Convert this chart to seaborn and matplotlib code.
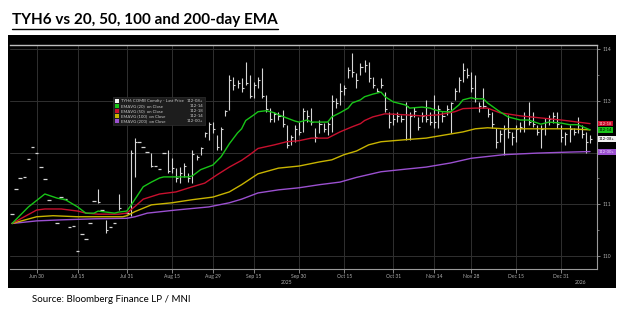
import numpy as np
import pandas as pd
import matplotlib
matplotlib.use("Agg")
import matplotlib.pyplot as plt
import seaborn as sns
from matplotlib.patches import Rectangle
from matplotlib.lines import Line2D

nan = np.nan

TITLE = "TYH6 vs 20, 50, 100 and 200-day EMA"
SOURCE = "Source: Bloomberg Finance LP / MNI"

# ---- daily bars (trading days from 2025-06-20) ----
hi = [110.81,111.30,111.51,111.53,111.88,112.11,112.00,111.72,111.49,111.09,
      nan,110.64,111.14,111.10,110.56,110.58,110.10,110.43,110.33,110.64,
      111.07,111.30,110.89,110.70,110.56,110.64,111.20,nan,110.83,112.05,
      112.28,112.21,112.11,112.01,112.00,111.74,111.68,112.00,112.05,111.90,
      111.70,111.72,111.80,111.61,112.05,111.96,112.11,112.40,112.59,112.59,
      112.34,112.50,112.83,113.50,113.46,113.41,113.44,113.75,113.50,113.37,
      113.46,113.64,113.12,112.86,112.79,112.79,112.83,112.54,112.34,112.54,
      112.59,112.86,112.83,112.86,112.48,112.63,112.57,112.59,113.12,113.06,
      113.35,113.31,113.66,113.93,113.54,113.73,113.79,113.75,113.46,113.25,
      113.44,113.17,112.79,112.77,112.79,112.73,112.98,112.79,112.88,112.69,
      112.79,113.02,112.79,113.12,112.92,112.79,112.92,112.98,113.25,113.46,
      113.73,113.64,113.56,113.50,112.98,113.25,112.86,112.79,112.48,112.44,
      112.54,112.73,112.40,112.54,112.59,112.79,112.98,112.79,112.54,112.54,
      112.67,112.73,112.79,112.79,112.54,112.40,112.54,112.48,112.69,112.54,
      112.40,112.34]
lo = [110.81,111.30,111.51,111.53,111.88,112.11,112.00,111.72,111.49,111.09,
      nan,110.64,111.14,111.10,110.56,110.58,110.10,110.43,110.33,110.64,
      111.07,111.03,110.89,110.45,110.56,110.64,110.89,nan,110.83,110.78,
      111.53,112.21,112.11,112.01,111.72,111.74,111.68,112.00,111.60,111.61,
      111.43,111.41,111.53,111.43,111.41,111.86,111.96,112.30,112.25,112.38,
      112.05,112.05,112.70,112.83,113.21,113.25,113.17,113.31,113.06,113.06,
      113.25,113.06,112.79,112.59,112.59,112.63,112.50,112.09,112.15,112.21,
      112.34,112.40,112.59,112.54,112.21,112.38,112.40,112.34,112.40,112.86,
      112.92,113.12,113.44,113.46,113.25,113.50,113.56,113.37,113.25,113.17,
      113.25,112.79,112.48,112.54,112.59,112.59,112.25,112.25,112.69,112.44,
      112.59,112.59,112.54,112.48,112.48,112.59,112.73,112.38,113.02,113.17,
      113.37,113.44,113.17,112.98,112.79,112.86,112.69,112.48,112.09,112.21,
      111.96,112.28,112.15,112.21,112.40,112.40,112.54,112.50,112.34,112.09,
      112.34,112.54,112.57,112.48,112.21,112.15,112.21,112.34,112.38,112.28,
      111.99,112.19]
cl = [110.81,111.30,111.51,111.53,111.88,112.11,112.00,111.72,111.49,111.09,
      nan,110.64,111.14,111.10,110.56,110.58,110.10,110.43,110.33,110.64,
      111.07,111.05,110.89,110.50,110.56,110.64,110.92,nan,110.83,112.00,
      112.20,112.21,112.11,112.01,111.75,111.74,111.68,112.00,111.65,111.70,
      111.50,111.60,111.75,111.50,111.98,111.92,112.08,112.38,112.55,112.45,
      112.10,112.45,112.80,113.40,113.30,113.35,113.25,113.35,113.10,113.30,
      113.40,113.10,112.85,112.65,112.75,112.70,112.55,112.15,112.30,112.45,
      112.40,112.80,112.70,112.60,112.30,112.55,112.45,112.55,113.00,112.95,
      113.20,113.25,113.60,113.55,113.40,113.65,113.70,113.45,113.30,113.20,
      113.30,112.85,112.60,112.65,112.70,112.65,112.90,112.70,112.80,112.50,
      112.70,112.65,112.60,112.60,112.85,112.70,112.85,112.95,113.20,113.40,
      113.60,113.50,113.25,113.05,112.90,112.90,112.75,112.55,112.20,112.35,
      112.45,112.40,112.30,112.45,112.50,112.70,112.60,112.55,112.40,112.45,
      112.60,112.65,112.70,112.55,112.30,112.35,112.45,112.40,112.45,112.35,
      112.20,112.27]

start_date = "2025-06-20"
holidays = ["2025-07-04", "2025-09-01", "2025-11-27", "2025-12-25", "2026-01-01"]

# ---- EMA readings (trading-day number, value) ----
ema20_day = [0,4,8,11,13,16,18,20,21,23,25,26,28,29,30,31,32,34,36,37,40,43,44,46,49,51,53,55,56,57,59,60,62,
             64,65,67,69,70,72,73,75,77,78,80,82,83,85,86,88,90,91,93,96,97,100,102,103,105,107,109,110,112,
             113,115,116,119,121,124,126,129,131,134,136,138,141]
ema20_val = [110.63,110.95,111.20,111.12,111.09,110.95,110.83,110.83,110.87,110.85,110.83,110.85,110.87,110.98,
             111.10,111.22,111.34,111.43,111.51,111.53,111.53,111.53,111.55,111.67,111.76,111.92,112.17,112.38,
             112.46,112.62,112.73,112.79,112.81,112.77,112.73,112.67,112.61,112.59,112.63,112.59,112.59,112.59,
             112.69,112.77,112.86,112.96,113.02,113.08,113.13,113.17,113.08,112.98,112.92,112.86,112.88,112.86,
             112.83,112.79,112.79,112.92,113.02,113.06,113.04,113.04,112.96,112.79,112.69,112.63,112.63,112.55,
             112.59,112.57,112.54,112.54,112.44]
ema50_day = [0,6,8,12,16,18,21,26,28,30,32,36,40,44,47,50,53,56,58,60,64,67,70,73,77,80,83,85,86,88,91,96,
             100,104,108,110,113,116,119,124,129,134,141]
ema50_val = [110.63,110.89,110.91,110.91,110.87,110.83,110.81,110.81,110.83,110.96,111.10,111.20,111.24,111.34,
             111.41,111.57,111.72,111.85,111.96,112.08,112.15,112.21,112.23,112.28,112.28,112.40,112.50,112.56,
             112.62,112.69,112.75,112.73,112.71,112.73,112.79,112.85,112.86,112.86,112.77,112.71,112.67,112.63,
             112.56]
ema100_day = [0,6,10,16,21,27,28,30,34,39,44,49,53,56,60,65,70,75,78,81,84,87,90,96,101,107,110,113,116,
              120,128,136,141]
ema100_val = [110.63,110.76,110.78,110.76,110.76,110.76,110.78,110.86,110.99,111.03,111.09,111.14,111.24,
              111.38,111.59,111.70,111.74,111.82,111.86,111.96,112.03,112.15,112.21,112.25,112.28,112.36,
              112.40,112.46,112.48,112.46,112.46,112.46,112.44]
ema200_day = [0,6,12,20,28,30,33,40,48,53,56,60,65,70,75,80,84,90,96,101,107,112,120,128,136,141]
ema200_val = [110.63,110.68,110.70,110.72,110.73,110.76,110.83,110.89,110.95,111.03,111.10,111.22,111.28,
              111.32,111.38,111.43,111.52,111.63,111.68,111.72,111.80,111.89,111.96,111.99,112.01,112.02]

series_names = ["EMAVG (20)  on Close", "EMAVG (50)  on Close", "EMAVG (100)  on Close", "EMAVG (200)  on Close"]
series_last = ["112-14", "112-18", "112-14", "112-00+"]
last_name = "TYH6 COMB Comdty - Last Price"
last_label = "112-08+"

tick_dates = ["2025-06-30", "2025-07-15", "2025-07-31", "2025-08-15", "2025-08-29", "2025-09-15",
              "2025-09-30", "2025-10-15", "2025-10-31", "2025-11-14", "2025-11-28", "2025-12-15",
              "2025-12-31"]
tick_labels = ["Jun 30", "Jul 15", "Jul 31", "Aug 15", "Aug 29", "Sep 15", "Sep 30", "Oct 15",
               "Oct 31", "Nov 14", "Nov 28", "Dec 15", "Dec 31"]
y_ticks = [110, 111, 112, 113, 114]
y_tick_labels = ["110", "111", "", "113", "114"]   # 112 is covered by the price tags

# tags on the right axis (value, text) - the 100-day tag sits hidden under the 20-day one
tag_vals = [112.5625, 112.4375, 112.2656, 112.0156]
tag_text = ["112-18", "112-14", "112-08+", "112-00+"]

# ---------------------------------------------------------------
C_GREEN = "#18c418"
C_RED = "#c8102e"
C_YEL = "#c8b400"
C_PUR = "#9b50d0"
C_BAR = "#d6d6d6"
C_WHITE = "#f2f2f2"

sns.set_style("dark")
plt.rcParams["font.family"] = ["Lato", "DejaVu Sans"]

W, H = 624, 325
fig = plt.figure(figsize=(W / 100, H / 100), dpi=100)
fig.patch.set_facecolor("white")

def fx(px):
    return px / W

def fy(py):
    return 1 - py / H

# black panel
fig.patches.append(Rectangle((fx(8), fy(288)), fx(616) - fx(8), fy(35) - fy(288),
                             transform=fig.transFigure, facecolor="black", edgecolor="none", zorder=-10))

ax = fig.add_axes([fx(10), fy(269), fx(597) - fx(10), fy(45) - fy(269)])
ax.set_facecolor("black")

hi_a = np.array(hi, float)
lo_a = np.array(lo, float)
cl_a = np.array(cl, float)
n = len(hi_a)
dates = pd.bdate_range(start=start_date, periods=n, freq="C", holidays=holidays)
x = np.arange(n)

# grid
for yv in y_ticks:
    ax.axhline(yv, color="#303030", lw=0.7, zorder=0)
tick_idx = [int(np.searchsorted(dates, pd.Timestamp(d))) for d in tick_dates]
for t in tick_idx:
    ax.axvline(t, color="#303030", lw=0.7, zorder=0)

# bars
m = ~np.isnan(hi_a)
bar = m & (hi_a > lo_a)
dash = m & (hi_a == lo_a)
ax.vlines(x[bar], lo_a[bar], hi_a[bar], color=C_BAR, lw=0.8, zorder=2)
ax.hlines(cl_a[bar], x[bar], x[bar] + 0.5, color=C_BAR, lw=0.8, zorder=2)
ax.hlines(cl_a[dash], x[dash] - 0.45, x[dash] + 0.45, color=C_BAR, lw=0.9, zorder=2)

# EMA lines
for d_, v_, c_ in [(ema200_day, ema200_val, C_PUR), (ema100_day, ema100_val, C_YEL),
                   (ema50_day, ema50_val, C_RED), (ema20_day, ema20_val, C_GREEN)]:
    sns.lineplot(x=d_, y=v_, color=c_, lw=1.0, ax=ax, zorder=3)

ax.set_xlabel("")
ax.set_ylabel("")

# axes styling
ax.yaxis.tick_right()
ax.set_yticks(y_ticks)
ax.set_yticklabels(y_tick_labels)
ax.set_yticks(np.arange(110.5, 113.6, 1.0), minor=True)
ax.tick_params(axis="y", which="major", colors="#9a9a9a", labelsize=3.6, length=2.5, width=0.6,
               pad=1.5, right=True, left=False, labelright=True, labelleft=False)
ax.tick_params(axis="y", which="minor", colors="#9a9a9a", length=1.5, width=0.5, right=True, left=False)
ax.set_xticks(tick_idx)
ax.set_xticklabels(tick_labels)
ax.tick_params(axis="x", colors="#9a9a9a", labelsize=3.6, length=3, width=0.6, pad=0.5, bottom=True)
for lbl in ax.get_xticklabels() + ax.get_yticklabels():
    lbl.set_color("#b0b0b0")
ax.grid(False)
ax.set_xlim(-0.5, 142.7)
ax.set_ylim(109.75, 114.08)
ax.spines["left"].set_visible(False)
ax.spines["bottom"].set_color("#9a9a9a")
ax.spines["bottom"].set_linewidth(0.8)
ax.spines["right"].set_color("#9a9a9a")
ax.spines["right"].set_linewidth(0.8)
ax.spines["top"].set_color("#bdbdbd")
ax.spines["top"].set_linewidth(1.0)

# year labels
years = dates.year
for yr in sorted(set(years)):
    idx = np.where(years == yr)[0]
    left = idx[0] - 0.5 if idx[0] > 0 else -0.5
    right = idx[-1] + 0.5 if idx[-1] < n - 1 else 142.7
    ax.text((left + right) / 2, -0.05, str(yr), transform=ax.get_xaxis_transform(),
            ha="center", va="top", fontsize=3.6, color="#b0b0b0", clip_on=False)

# price tags on the right
tag_cols = [C_RED, C_GREEN, C_WHITE, C_PUR]
tag_tcol = ["#ffd6d6", "black", "black", "#f0e0ff"]
for i in range(len(tag_vals)):
    ax.annotate(tag_text[i], xy=(1.0, tag_vals[i]), xycoords=("axes fraction", "data"),
                xytext=(1.5, 0), textcoords="offset points", fontsize=3.0, color=tag_tcol[i],
                va="center", ha="left", annotation_clip=False, zorder=6,
                bbox=dict(boxstyle="square,pad=0.2", fc=tag_cols[i], ec="none"))

# legend box
fig.patches.append(Rectangle((fx(113), fy(125)), fx(205) - fx(113), fy(97) - fy(125),
                             transform=fig.transFigure, facecolor="#1d1d1d", edgecolor="#303030",
                             lw=0.5, zorder=5))
leg_cols = [C_WHITE, C_GREEN, C_RED, C_YEL, C_PUR]
leg_names = [last_name] + series_names
leg_vals = [last_label] + series_last
for k in range(5):
    py = 101 + 5.1 * k
    fig.patches.append(Rectangle((fx(115), fy(py + 2)), fx(4), fy(0) - fy(4),
                                 transform=fig.transFigure, facecolor=leg_cols[k], edgecolor="none",
                                 zorder=6))
    fig.text(fx(121), fy(py), leg_names[k], fontsize=3.1, color="#c8c8c8", va="center", ha="left",
             zorder=7)
    fig.text(fx(203), fy(py), leg_vals[k], fontsize=3.1, color="#c8c8c8", va="center", ha="right",
             zorder=7)

# title + source
t = fig.text(fx(12), fy(20), TITLE, fontsize=11, fontweight="bold", color="black",
             va="center", ha="left")
fig.text(fx(32), fy(300), SOURCE, fontsize=7, color="black", va="center", ha="left")

fig.canvas.draw()
bb = t.get_window_extent()
uy = (bb.y0 - 1.5) / H
fig.add_artist(Line2D([bb.x0 / W, bb.x1 / W], [uy, uy], transform=fig.transFigure,
                      color="black", lw=1.0))

fig.savefig("out.png", dpi=100, facecolor=fig.get_facecolor())
